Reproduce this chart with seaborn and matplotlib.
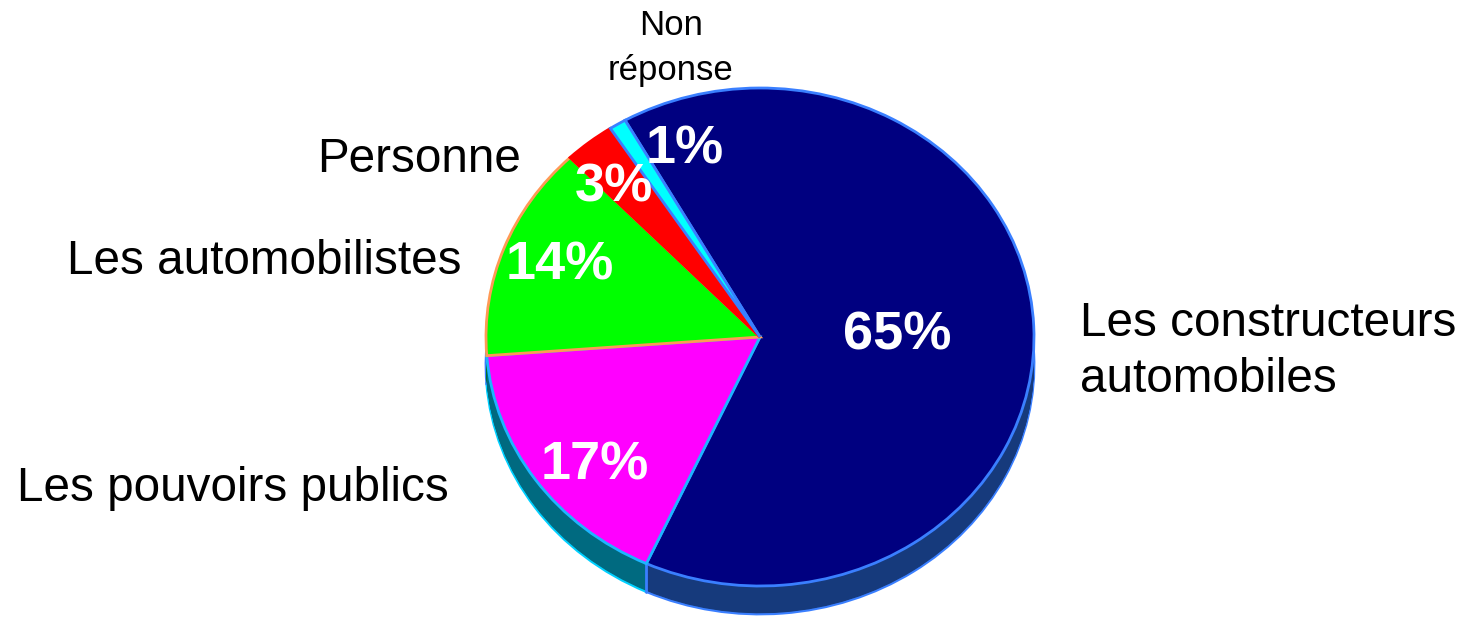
import numpy as np
import matplotlib
matplotlib.use("Agg")
import matplotlib.pyplot as plt
import seaborn as sns

# ---- data ----
categories = ["Les constructeurs\nautomobiles", "Les pouvoirs publics",
              "Les automobilistes", "Personne", "Non\nréponse"]
values = [65, 17, 14, 3, 1]
pct_labels = [f"{v}%" for v in values]

top_colors = ["#000080", "#FF00FF", "#00FF00", "#FF0000", "#00FFFF"]
side_colors = ["#163A7C", "#006A80", "#007A00", "#800000", "#008080"]
edge_colors = ["#3A7FFF", "#1EB4FF", "#FF9955", "#FF0000", "#3A7FFF"]

W, H = 1467, 618
cx, cy, rx, ry = 760, 337, 274, 249
depth_px = 28
start = 119.5

sns.set_style("white")
plt.rcParams["font.family"] = ["Liberation Sans", "DejaVu Sans"]
plt.rcParams["text.color"] = "black"

fig = plt.figure(figsize=(W / 100, H / 100), dpi=100)
ax = fig.add_axes([0, 0, 1, 1])

d = depth_px / ry
# side (extrusion) layers
offsets = np.linspace(d, 0, 40)
for i, off in enumerate(offsets):
    wedges, _ = ax.pie(values, colors=side_colors, startangle=start,
                       counterclock=False, center=(0, -off),
                       wedgeprops=dict(linewidth=0))
    if i == 0:
        for w, ec in zip(wedges, ["#3A7FFF", "#00D0FF", "#3A7FFF", "#3A7FFF", "#3A7FFF"]):
            w.set_edgecolor(ec)
            w.set_linewidth(2)

# divider line on the side between blue and magenta
ang = np.deg2rad(start - 360 * values[0] / sum(values))
ax.plot([np.cos(ang), np.cos(ang)], [np.sin(ang), np.sin(ang) - d],
        color="#3A7FFF", lw=2, zorder=3)

# top face
wedges, _ = ax.pie(values, colors=top_colors, startangle=start,
                   counterclock=False, center=(0, 0),
                   wedgeprops=dict(linewidth=2))
for w, ec in zip(wedges, edge_colors):
    w.set_edgecolor(ec)
    w.set_zorder(4)

ax.set_aspect("auto")
ax.set_xlim(-cx / rx, (W - cx) / rx)
ax.set_ylim(-(H - cy) / ry, cy / ry)
ax.axis("off")


def px(x, y):
    return x / W, 1 - y / H


# category labels
fs = 34.3
fig.text(*px(1080, 392), categories[0], ha="left", va="baseline",
             fontsize=fs, linespacing=1.32, color="black")
fig.text(*px(17, 501), categories[1], ha="left", va="baseline", fontsize=fs, color="black")
fig.text(*px(462, 274), categories[2], ha="right", va="baseline", fontsize=fs, color="black")
fig.text(*px(521, 172), categories[3], ha="right", va="baseline", fontsize=fs, color="black")
fig.text(*px(671, 48), categories[4], ha="center", va="center",
         fontsize=25, linespacing=1.45, color="black")

# percentage labels
pct_pos = [(897, 336), (595, 465), (560, 265), (614, 187), (685, 150)]
for lab, (x, y) in zip(pct_labels, pct_pos):
    fig.text(*px(x, y), lab, ha="center", va="center", fontsize=39,
             fontweight="bold", color="white", zorder=10)

fig.savefig("out.png", dpi=100)
